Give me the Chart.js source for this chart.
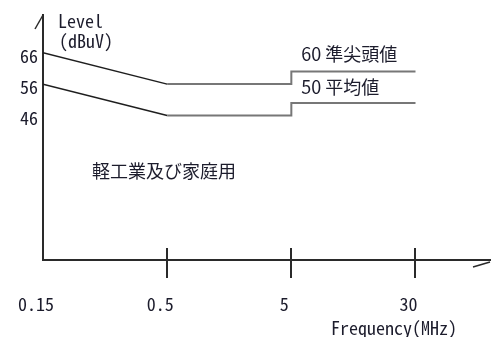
<!DOCTYPE html>
<html>
<head>
<meta charset="utf-8">
<script src="https://cdn.jsdelivr.net/npm/chart.js@4.4.0/dist/chart.umd.min.js"></script>
<style>
  html, body { margin: 0; padding: 0; background: #fff; }
  #wrap { width: 493px; height: 337px; }
</style>
</head>
<body>
<div id="wrap"><canvas id="limitChart" width="493" height="337"></canvas></div>
<script>
// frequency breakpoints (MHz), drawn evenly spaced like the original sketch
const freqLabels = ['0.15', '0.5', '5', '30'];
const levelTicks = [46, 56, 66];

// limit lines, each point is [frequency, level dBuV]
const stepFreqs = ['0.15', '0.5', '5', '5', '30'];
const quasiPeak = [66, 56, 56, 60, 60];
const average = [56, 46, 46, 50, 50];

const quasiPeakLabel = '60 準尖頭値';
const averageLabel = '50 平均値';
const classLabel = '軽工業及び家庭用';

const MONO = '"Noto Sans Mono CJK JP", "Noto Sans CJK JP", "DejaVu Sans Mono", monospace';
const CJK = '"Noto Sans CJK JP", sans-serif';
const TEXT = '#1c1c2c';

function toPoints(levels) {
    return levels.map(function (v, i) {
        return { x: freqLabels.indexOf(stepFreqs[i]), y: v };
    });
}

// slope part dark, flat parts grey
function segColor(ctx) {
    return ctx.p0DataIndex === 0 ? '#1e1e1e' : '#777';
}
function segWidth(ctx) {
    return ctx.p0DataIndex === 0 ? 1.5 : 2;
}

const decor = {
    id: 'decor',
    afterDraw(chart) {
        const ctx = chart.ctx;
        const xs = chart.scales.x, ys = chart.scales.y;
        const area = chart.chartArea;
        ctx.save();
        ctx.strokeStyle = '#2a2a2a';
        ctx.lineWidth = 2;
        // tick marks across the frequency axis
        for (let i = 1; i < freqLabels.length; i++) {
            const px = Math.round(xs.getPixelForValue(i));
            ctx.beginPath();
            ctx.moveTo(px, area.bottom - 12);
            ctx.lineTo(px, area.bottom + 18);
            ctx.stroke();
        }
        // little slashes at the axis ends
        ctx.lineWidth = 1.5;
        ctx.beginPath();
        ctx.moveTo(area.left - 8, area.top + 14);
        ctx.lineTo(area.left, area.top);
        ctx.stroke();
        ctx.beginPath();
        ctx.moveTo(area.right - 17, area.bottom + 7);
        ctx.lineTo(area.right, area.bottom + 2);
        ctx.stroke();

        ctx.fillStyle = TEXT;
        ctx.textBaseline = 'middle';
        ctx.textAlign = 'left';
        ctx.font = '18px ' + MONO;
        ctx.fillText('Level', area.left + 15, area.top + 6);
        ctx.fillText('(dBuV)', area.left + 16, area.top + 26);
        ctx.fillText('Frequency(MHz)', 331, 328);

        // limit names above the flat parts
        ctx.font = '18px ' + CJK;
        const lx = xs.getPixelForValue(2) + 10;
        ctx.fillText(quasiPeakLabel, lx, ys.getPixelForValue(60) - 17);
        ctx.fillText(averageLabel, lx, ys.getPixelForValue(50) - 16);
        ctx.fillText(classLabel, 92, 171);
        ctx.restore();
    }
};

const CHART = document.getElementById('limitChart');

let limitChart = new Chart(CHART, {
    type: 'line',
    data: {
        datasets: [
            {
                label: 'quasi-peak',
                data: toPoints(quasiPeak),
                borderColor: '#1e1e1e',
                pointRadius: 0,
                tension: 0,
                segment: { borderColor: segColor, borderWidth: segWidth }
            },
            {
                label: 'average',
                data: toPoints(average),
                borderColor: '#1e1e1e',
                pointRadius: 0,
                tension: 0,
                segment: { borderColor: segColor, borderWidth: segWidth }
            }
        ]
    },
    options: {
        responsive: false,
        animation: false,
        layout: { padding: { top: 15, right: 3, left: 0, bottom: 0 } },
        plugins: { legend: { display: false }, tooltip: { enabled: false } },
        scales: {
            x: {
                type: 'linear',
                min: 0,
                max: 3.6,
                grid: { display: false, drawTicks: false },
                border: { display: true, color: '#2a2a2a', width: 2 },
                afterBuildTicks: function (s) {
                    s.ticks = freqLabels.map(function (l, i) { return { value: i }; });
                },
                afterFit: function (s) {
                    s.height = 77;
                    s.paddingLeft = 0;
                    s.paddingRight = 0;
                },
                ticks: {
                    autoSkip: false,
                    maxRotation: 0,
                    padding: 33,
                    labelOffset: -7,
                    color: TEXT,
                    font: { family: MONO, size: 18 },
                    callback: function (v) { return freqLabels[v]; }
                }
            },
            y: {
                min: 0,
                max: 78,
                grid: { display: false, drawTicks: false },
                border: { display: true, color: '#2a2a2a', width: 2 },
                afterBuildTicks: function (s) {
                    s.ticks = levelTicks.map(function (v) { return { value: v }; });
                },
                afterFit: function (s) {
                    s.width = 43;
                    s.paddingTop = 0;
                    s.paddingBottom = 0;
                },
                ticks: {
                    padding: 5,
                    labelOffset: 3,
                    color: TEXT,
                    font: { family: MONO, size: 18 }
                }
            }
        }
    },
    plugins: [decor]
});
</script>
</body>
</html>
